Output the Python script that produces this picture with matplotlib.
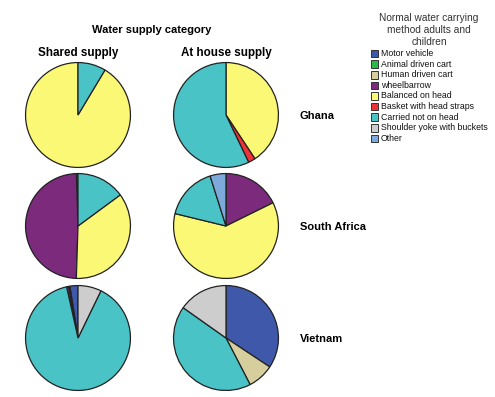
import matplotlib
matplotlib.use("Agg")
import matplotlib.pyplot as plt
from matplotlib.patches import Rectangle

categories = ["Motor vehicle", "Animal driven cart", "Human driven cart", "wheelbarrow",
              "Balanced on head", "Basket with head straps", "Carried not on head",
              "Shoulder yoke with buckets", "Other"]
colors = ["#3F58AA", "#2DB84A", "#D6CE9C", "#7B2A7C", "#FBF876", "#EE3238",
          "#4AC3C6", "#CDCDCD", "#7EAADB"]

countries = ["Ghana", "South Africa", "Vietnam"]
supplies = ["Shared supply", "At house supply"]

# percentages in category order
ghana_shared = [0, 0, 0, 0, 91.4, 0, 8.6, 0, 0]
ghana_house = [0, 0, 0, 0, 40.7, 2.2, 57.1, 0, 0]
sa_shared = [0, 0.5, 0, 49.0, 35.6, 0, 14.9, 0, 0]
sa_house = [0, 0, 0, 17.7, 61.1, 0, 16.3, 0, 4.9]
vn_shared = [2.5, 0, 0.4, 0.6, 0, 0, 89.3, 7.2, 0]
vn_house = [34.3, 0, 8.1, 0, 0, 0, 42.4, 15.2, 0]

data = {
    ("Ghana", "Shared supply"): ghana_shared,
    ("Ghana", "At house supply"): ghana_house,
    ("South Africa", "Shared supply"): sa_shared,
    ("South Africa", "At house supply"): sa_house,
    ("Vietnam", "Shared supply"): vn_shared,
    ("Vietnam", "At house supply"): vn_house,
}

W, H = 495, 397
fig = plt.figure(figsize=(W / 100, H / 100), dpi=100)
fig.patch.set_facecolor("white")

col_cx = [78, 226]
row_cy = [115, 226, 338]
r = 53.5

for i, c in enumerate(countries):
    for j, s in enumerate(supplies):
        cx, cy = col_cx[j], row_cy[i]
        ax = fig.add_axes([(cx - r) / W, 1 - (cy + r) / H, 2 * r / W, 2 * r / H])
        vals = data[(c, s)]
        v = [x for x in vals if x > 0]
        cl = [colors[k] for k, x in enumerate(vals) if x > 0]
        ax.pie(v, colors=cl, startangle=90, counterclock=(j == 0), radius=1,
               wedgeprops=dict(edgecolor="#222222", linewidth=0.9))
        ax.set_xlim(-1.02, 1.02)
        ax.set_ylim(-1.02, 1.02)
        ax.set_aspect("equal")
        ax.axis("off")

fam = ["Liberation Sans", "DejaVu Sans"]
fig.text(152 / W, 1 - 30 / H, "Water supply category", ha="center", va="center",
         fontsize=8, fontweight="bold", family=fam)
for j, s in enumerate(supplies):
    fig.text(col_cx[j] / W, 1 - 53 / H, s, ha="center", va="center",
             fontsize=8.4, fontweight="bold", family=fam)
for i, c in enumerate(countries):
    fig.text(300 / W, 1 - (row_cy[i] + 1) / H, c, ha="left", va="center",
             fontsize=8, fontweight="bold", family=fam)

fig.text(429 / W, 1 - 30 / H, "Normal water carrying\nmethod adults and\nchildren",
         ha="center", va="center", fontsize=7.3, color="#333333", family=fam,
         linespacing=1.2)

y0 = 53.5
dy = 10.6
for k, name in enumerate(categories):
    y = y0 + k * dy
    fig.patches.append(Rectangle(((370.5) / W, 1 - (y + 3.8) / H), 7 / W, 7.5 / H,
                                 transform=fig.transFigure, facecolor=colors[k],
                                 edgecolor="#333333", linewidth=0.7))
    fig.text(381 / W, 1 - y / H, name, ha="left", va="center", fontsize=6.3,
             color="#111111", family=fam)

fig.savefig("out.png", dpi=100, facecolor="white")
